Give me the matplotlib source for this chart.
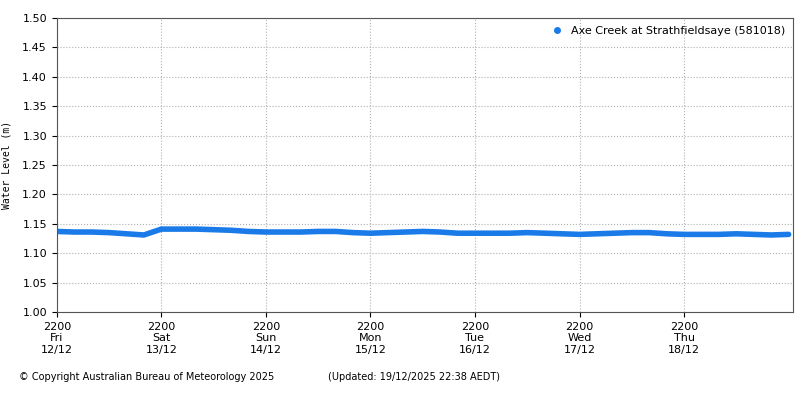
import matplotlib
matplotlib.use("Agg")
import matplotlib.pyplot as plt
import numpy as np
import datetime as dt

start = dt.datetime(2025, 12, 12, 22, 0)
levels = [1.137, 1.136, 1.136, 1.135, 1.133, 1.131,
          1.141, 1.141, 1.141, 1.140, 1.139, 1.137,
          1.136, 1.136, 1.136, 1.137, 1.137, 1.135,
          1.134, 1.135, 1.136, 1.137, 1.136, 1.134,
          1.134, 1.134, 1.134, 1.135, 1.134, 1.133,
          1.132, 1.133, 1.134, 1.135, 1.135, 1.133,
          1.132, 1.132, 1.132, 1.133, 1.132, 1.131, 1.132]
times = [start + dt.timedelta(hours=4 * i) for i in range(len(levels))]
tick_labels = ["2200\nFri\n12/12", "2200\nSat\n13/12", "2200\nSun\n14/12", "2200\nMon\n15/12",
               "2200\nTue\n16/12", "2200\nWed\n17/12", "2200\nThu\n18/12"]
tick_times = [start + dt.timedelta(days=i) for i in range(7)]

fig = plt.figure(figsize=(8, 4), dpi=100)
ax = fig.add_axes([0.071, 0.22, 0.92, 0.735])
col = "#1a7be8"
ax.plot(times, levels, color=col, lw=4, solid_capstyle="round", solid_joinstyle="round")
ax.plot([], [], "o", color=col, ms=4, label="Axe Creek at Strathfieldsaye (581018)")
ax.set_xlim(start, start + dt.timedelta(days=7.04))
ax.set_ylim(1.0, 1.5)
ax.set_yticks(np.arange(1.0, 1.501, 0.05))
ax.yaxis.set_major_formatter(matplotlib.ticker.FormatStrFormatter("%.2f"))
ax.set_xticks(tick_times)
ax.set_xticklabels(tick_labels, fontsize=8)
ax.tick_params(axis="y", labelsize=8)
ax.grid(True, color="#b0b0b0", ls=":", lw=0.8)
for s in ax.spines.values():
    s.set_color("#555555")
ax.set_ylabel("Water Level (m)", fontsize=7, family="DejaVu Sans Mono", labelpad=8)
ax.legend(loc="upper right", fontsize=8, frameon=False, handletextpad=0.2, borderaxespad=0.3)
fig.text(0.024, 0.05, "© Copyright Australian Bureau of Meteorology 2025", fontsize=7)
fig.text(0.41, 0.05, "(Updated: 19/12/2025 22:38 AEDT)", fontsize=7)
fig.savefig("out.png")
